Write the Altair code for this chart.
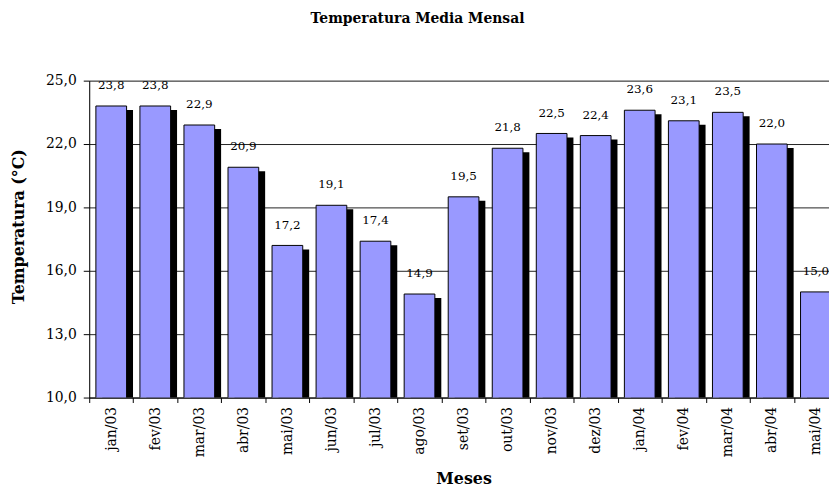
import altair as alt
import pandas as pd

meses = ["jan/03", "fev/03", "mar/03", "abr/03", "mai/03", "jun/03", "jul/03",
         "ago/03", "set/03", "out/03", "nov/03", "dez/03", "jan/04", "fev/04",
         "mar/04", "abr/04", "mai/04"]
temperaturas = [23.8, 23.8, 22.9, 20.9, 17.2, 19.1, 17.4, 14.9, 19.5, 21.8,
                22.5, 22.4, 23.6, 23.1, 23.5, 22.0, 15.0]
y_ticks = [10, 13, 16, 19, 22, 25]

df = pd.DataFrame({"mes": meses, "temp": temperaturas})

FONT = "DejaVu Serif"

x_enc = alt.X(
    "mes:N",
    sort=meses,
    scale=alt.Scale(domain=meses, range=[0, 756], paddingInner=0, paddingOuter=0),
    axis=alt.Axis(
        title="Meses",
        titleFont=FONT, titleFontSize=16, titleFontWeight="bold", titleColor="black",
        titleBaseline="middle", titleY=82, titleX=378, titleAnchor="start", titleAlign="center",
        labelFont=FONT, labelFontSize=14, labelColor="black",
        labelAngle=-90, labelAlign="right", labelBaseline="middle", labelPadding=4,
        tickBand="extent", tickSize=5, tickColor="black",
        domainColor="black", grid=False,
    ),
)
y_scale = alt.Scale(domain=[10, 25], nice=False, zero=False)

base = alt.Chart(df)

shadow = base.mark_bar(color="black", width=31, xOffset=6.5, yOffset=4, clip=True).encode(
    x=x_enc,
    y=alt.Y("temp:Q", scale=y_scale,
            axis=alt.Axis(
                title="Temperatura (°C)", values=y_ticks,
                labelExpr="replace(format(datum.value, '.1f'), '.', ',')",
                labelFont=FONT, labelFontSize=14, labelColor="black", labelPadding=7,
                tickSize=6, tickColor="black", domainColor="black",
                gridColor="#222222", gridWidth=1,
                titleFont=FONT, titleFontSize=16, titleFontWeight="bold", titleColor="black",
                titleX=-63, titleY=147, titleAlign="center", titleAnchor="start",
            )),
)

bars = base.mark_bar(color="#9999FF", stroke="black", strokeWidth=1, width=31, clip=True).encode(
    x=alt.X("mes:N", sort=meses),
    y=alt.Y("temp:Q", scale=y_scale),
)

labels = base.transform_calculate(
    rotulo="replace(format(datum.temp, '.1f'), '.', ',')"
).mark_text(font=FONT, fontSize=12, color="black", baseline="middle", dy=-21).encode(
    x=alt.X("mes:N", sort=meses),
    y=alt.Y("temp:Q", scale=y_scale),
    text="rotulo:N",
)

chart = alt.layer(shadow, bars, labels).properties(
    width=747,
    height=320,
    title=alt.TitleParams(
        "Temperatura Media Mensal", font=FONT, fontSize=14, fontWeight="bold",
        color="black", offset=48, dx=-42,
    ),
    autosize=alt.AutoSizeParams(type="none"),
    padding={"left": 82, "top": 71, "right": 0, "bottom": 91},
).configure_view(strokeWidth=0).configure(background="white")

chart.save("out.html", embed_options={"renderer": "svg", "actions": False})
